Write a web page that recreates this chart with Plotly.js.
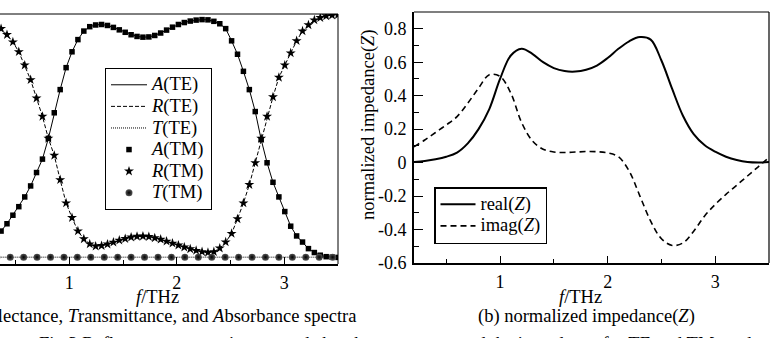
<!DOCTYPE html>
<html>
<head>
<meta charset="utf-8">
<script src="https://cdn.plot.ly/plotly-3.0.1.min.js"></script>
<style>
  html, body { margin: 0; padding: 0; background: #fff; }
  #chart { width: 779px; height: 338px; }
</style>
</head>
<body>
<div id="chart"></div>
<script>
// ---------- data: panel (a) ----------
const fAR = [0.31,0.365,0.42,0.475,0.53,0.585,0.64,0.695,0.75,0.805,0.86,0.915,0.97,
  1.025,1.08,1.135,1.19,1.245,1.3,1.355,1.41,1.465,1.52,1.575,1.63,1.685,1.74,1.795,1.85,1.905,1.96,
  2.015,2.07,2.125,2.18,2.235,2.29,2.345,2.4,2.455,2.51,2.565,2.62,2.675,2.73,2.785,2.84,2.895,2.95,
  3.005,3.06,3.115,3.17,3.225,3.28,3.335,3.39,3.445,3.5];
const absorb = [0.085,0.11,0.14,0.175,0.21,0.25,0.295,0.35,0.405,0.49,0.595,0.69,0.78,
  0.845,0.895,0.93,0.948,0.955,0.957,0.953,0.945,0.935,0.925,0.915,0.908,0.905,0.906,0.912,0.922,0.934,0.946,
  0.957,0.965,0.971,0.975,0.977,0.976,0.97,0.96,0.94,0.89,0.835,0.765,0.69,0.6,0.485,0.39,0.31,0.25,
  0.19,0.13,0.09,0.065,0.038,0.022,0.011,0.005,0.003,0.002];
const reflect = [0.96,0.94,0.915,0.885,0.845,0.79,0.73,0.655,0.58,0.49,0.42,0.32,0.225,
  0.165,0.11,0.078,0.057,0.048,0.05,0.056,0.064,0.072,0.079,0.085,0.088,0.089,0.087,0.082,0.076,0.068,0.06,
  0.052,0.044,0.037,0.03,0.025,0.022,0.025,0.04,0.065,0.1,0.16,0.225,0.3,0.39,0.49,0.58,0.66,0.74,
  0.79,0.84,0.89,0.93,0.955,0.975,0.985,0.992,0.995,0.997];
const fT = [0.2,0.325,0.45,0.575,0.7,0.825,0.95,1.075,1.2,1.325,1.45,1.575,1.7,1.825,1.95,
  2.075,2.2,2.325,2.45,2.575,2.7,2.825,2.95,3.075,3.2,3.325,3.45];
const transmit = [0.003,0.003,0.003,0.003,0.003,0.003,0.003,0.003,0.003,0.003,0.003,0.003,0.003,0.003,0.003,
  0.003,0.003,0.003,0.003,0.003,0.003,0.003,0.003,0.003,0.003,0.003,0.003];

// ---------- data: panel (b) ----------
const fZ = [0.2,0.3,0.4,0.5,0.6,0.7,0.8,0.9,1.0,1.1,1.2,1.3,1.4,1.5,1.6,1.7,1.8,1.9,2.0,
  2.1,2.2,2.3,2.4,2.5,2.6,2.7,2.8,2.9,3.0,3.1,3.2,3.3,3.4,3.5];
const realZ = [0.003,0.01,0.02,0.035,0.06,0.115,0.2,0.32,0.5,0.64,0.68,0.65,0.6,0.565,0.547,0.544,0.555,0.58,0.625,
  0.68,0.725,0.75,0.735,0.61,0.44,0.28,0.17,0.105,0.065,0.035,0.015,0.003,0.0,0.003];
const imagZ = [0.095,0.135,0.18,0.225,0.275,0.355,0.445,0.525,0.515,0.415,0.24,0.13,0.08,0.063,0.06,0.063,0.066,0.065,0.058,
  0.035,-0.05,-0.2,-0.35,-0.455,-0.495,-0.48,-0.41,-0.32,-0.25,-0.19,-0.135,-0.08,-0.025,0.03];

// ---------- tick labels ----------
const xTickVals = [1, 2, 3];
const xTickText = ['1', '2', '3'];
const yTickVals = [-0.6, -0.4, -0.2, 0, 0.2, 0.4, 0.6, 0.8];
const yTickText = ['-0.6', '-0.4', '-0.2', '0', '0.2', '0.4', '0.6', '0.8'];

// ---------- layout helpers ----------
const W = 779, H = 338;
const px = x => x / W;
const py = y => 1 - y / H;
const FONT = 'Liberation Serif, Times New Roman, serif';
const big = s => '<span style="font-size:18.5px">' + s + '</span>';

const traces = [
  {x: fAR, y: absorb, name: big('<i>A</i>(TE)'), mode: 'lines', line: {color: '#000', width: 1}, xaxis: 'x', yaxis: 'y'},
  {x: fAR, y: reflect, name: big('<i>R</i>(TE)'), mode: 'lines', line: {color: '#000', width: 1, dash: '4px,2px'}, xaxis: 'x', yaxis: 'y'},
  {x: fT, y: transmit, name: big('<i>T</i>(TE)'), mode: 'lines', line: {color: '#000', width: 1, dash: '1px,1px'}, xaxis: 'x', yaxis: 'y'},
  {x: fAR, y: absorb, name: big('<i>A</i>(TM)'), mode: 'markers', marker: {symbol: 'square', size: 5.5, color: '#000'}, xaxis: 'x', yaxis: 'y'},
  {x: fAR, y: reflect, name: big('<i>R</i>(TM)'), mode: 'markers', marker: {symbol: 'star', size: 7.5, color: '#000', line: {width: 0}}, xaxis: 'x', yaxis: 'y'},
  {x: fT, y: transmit, name: big('<i>T</i>(TM)'), mode: 'markers', marker: {symbol: 'circle', size: 7, color: '#555', gradient: {type: 'radial', color: '#000'}, line: {width: 0}}, xaxis: 'x', yaxis: 'y'},
  {x: fZ, y: realZ, name: big('real(<i>Z</i>)'), mode: 'lines', line: {color: '#000', width: 2, shape: 'spline', smoothing: 1}, xaxis: 'x2', yaxis: 'y2', legend: 'legend2'},
  {x: fZ, y: imagZ, name: big('imag(<i>Z</i>)'), mode: 'lines', line: {color: '#000', width: 1.6, dash: '6px,4px', shape: 'spline', smoothing: 1}, xaxis: 'x2', yaxis: 'y2', legend: 'legend2'}
];

const tickFont = {family: FONT, size: 18, color: '#000'};
const xCommon = {
  tickmode: 'array', tickvals: xTickVals, ticktext: xTickText,
  ticks: 'inside', ticklen: 7, tickwidth: 1, tickcolor: '#000',
  minor: {dtick: 0.5, tick0: 0, ticks: 'inside', ticklen: 4, tickwidth: 1, tickcolor: '#000'},
  showline: true, linewidth: 2, linecolor: '#000', ticklabelstandoff: 1,
  showgrid: false, zeroline: false, tickfont: tickFont, fixedrange: true
};
const capFont = {family: FONT, size: 18.5, color: '#000'};

const layout = {
  width: W, height: H,
  margin: {l: 0, r: 0, t: 0, b: 0},
  paper_bgcolor: '#fff', plot_bgcolor: '#fff',
  showlegend: true,
  xaxis: Object.assign({}, xCommon, {domain: [0, px(338)], range: [0.355, 3.5], anchor: 'y'}),
  yaxis: {domain: [py(264), py(14)], range: [-0.025, 1.0], showline: false, showticklabels: false,
          ticks: '', showgrid: false, zeroline: false, anchor: 'x', fixedrange: true},
  xaxis2: Object.assign({}, xCommon, {domain: [px(414), px(769)], range: [0.2, 3.5], anchor: 'y2'}),
  yaxis2: {domain: [py(263), py(12)], range: [-0.6, 0.9], anchor: 'x2',
           tickmode: 'array', tickvals: yTickVals, ticktext: yTickText,
           ticks: 'inside', ticklen: 9, tickwidth: 1, tickcolor: '#000',
           minor: {dtick: 0.1, tick0: 0, ticks: 'inside', ticklen: 5, tickwidth: 1, tickcolor: '#000'},
           showline: true, linewidth: 2, linecolor: '#000',
           showgrid: false, zeroline: false, tickfont: tickFont, ticklabelstandoff: 2, fixedrange: true},
  legend: {x: px(105), y: py(68), xanchor: 'left', yanchor: 'top', bgcolor: '#fff',
           bordercolor: '#000', borderwidth: 1, font: {family: FONT, size: 14.3, color: '#000'},
           tracegroupgap: 0, itemwidth: 36},
  legend2: {x: px(434), y: py(187), xanchor: 'left', yanchor: 'top', bgcolor: '#fff',
            bordercolor: '#000', borderwidth: 1.5, font: {family: FONT, size: 14.3, color: '#000'},
            tracegroupgap: 0, itemwidth: 35},
  shapes: [
    {type: 'line', xref: 'x domain', yref: 'y domain', x0: 0, x1: 1, y0: 1, y1: 1, line: {color: '#000', width: 1}},
    {type: 'line', xref: 'x domain', yref: 'y domain', x0: 1, x1: 1, y0: 0, y1: 1, line: {color: '#000', width: 1}},
    {type: 'line', xref: 'x2 domain', yref: 'y2 domain', x0: 0, x1: 1, y0: 1, y1: 1, line: {color: '#000', width: 1.2}},
    {type: 'line', xref: 'x2 domain', yref: 'y2 domain', x0: 1, x1: 1, y0: 0, y1: 1, line: {color: '#000', width: 1.2}}
  ],
  annotations: [
    {xref: 'paper', yref: 'paper', x: px(157.5), y: py(297), xanchor: 'center', yanchor: 'middle',
     text: '<i>f</i>/THz', showarrow: false, font: capFont},
    {xref: 'paper', yref: 'paper', x: px(580), y: py(297), xanchor: 'center', yanchor: 'middle',
     text: '<i>f</i>/THz', showarrow: false, font: capFont},
    {xref: 'paper', yref: 'paper', x: px(368), y: py(125), xanchor: 'center', yanchor: 'middle', textangle: -90,
     text: 'normalized impedance(<i>Z</i>)', showarrow: false, font: capFont},
    {xref: 'paper', yref: 'paper', x: px(358), y: py(316), xanchor: 'right', yanchor: 'middle',
     text: '(a) <i>R</i>eflectance, <i>T</i>ransmittance, and <i>A</i>bsorbance spectra', showarrow: false,
     font: capFont},
    {xref: 'paper', yref: 'paper', x: px(586.5), y: py(316), xanchor: 'center', yanchor: 'middle',
     text: '(b) normalized impedance(<i>Z</i>)', showarrow: false, font: capFont},
    {xref: 'paper', yref: 'paper', x: px(37), y: py(344), xanchor: 'left', yanchor: 'middle',
     text: 'Fig.3 Reflectance, transmittance and absorbance spectra and the impedance for TE and TM modes', showarrow: false,
     font: capFont}
  ]
};

Plotly.newPlot('chart', traces, layout, {displayModeBar: false, staticPlot: true});
</script>
</body>
</html>
